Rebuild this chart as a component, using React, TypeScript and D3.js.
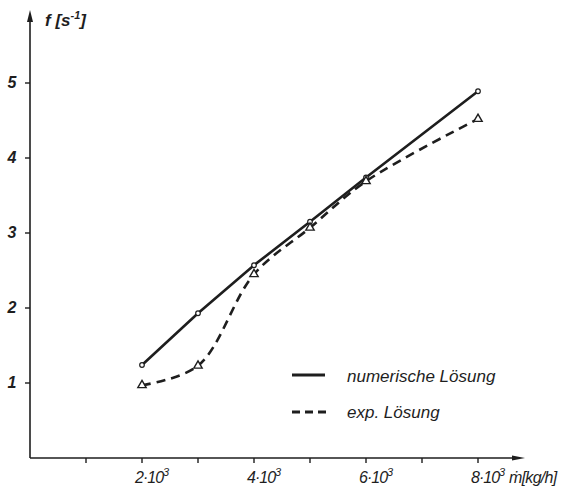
import * as d3 from "d3";

const massFlow = [2000, 3000, 4000, 5000, 6000, 8000];
const numerisch = [1.24, 1.93, 2.57, 3.15, 3.74, 4.89];
const experiment = [0.97, 1.23, 2.45, 3.07, 3.69, 4.52];
const xTicks = [1000, 2000, 3000, 4000, 5000, 6000, 7000, 8000];
const xLabels = [2000, 4000, 6000, 8000];
const yTicks = [1, 2, 3, 4, 5];

const W = 573, H = 495;
const INK = "#1e1e1e";
const FONT = "'Liberation Sans', Arial, sans-serif";

export default function App() {
  const sx = d3.scaleLinear().domain([0, 8000]).range([30, 478]);
  const sy = d3.scaleLinear().domain([0, 5]).range([458, 83]);
  const ptsN = massFlow.map((m, i) => [sx(m), sy(numerisch[i])] as [number, number]);
  const ptsE = massFlow.map((m, i) => [sx(m), sy(experiment[i])] as [number, number]);
  const solid = d3.line().curve(d3.curveLinear)(ptsN) || "";
  const dashed = d3.line().curve(d3.curveCatmullRom.alpha(0.5))(ptsE) || "";
  const tri = d3.symbol().type(d3.symbolTriangle).size(30)() || "";
  const x0 = sx(0), y0 = sy(0);

  return (
    <svg width={W} height={H} viewBox={`0 0 ${W} ${H}`}
      style={{ position: "absolute", left: 0, top: 0, background: "#fff", fontFamily: FONT }}>
      {/* axes */}
      <line x1={x0} x2={x0} y1={y0} y2={16} stroke={INK} strokeWidth={1.6} />
      <path d={`M${x0},10 L${x0 - 3},22 L${x0 + 3},22 Z`} fill={INK} />
      <line x1={x0} x2={518} y1={y0} y2={y0} stroke={INK} strokeWidth={1.6} />
      <path d={`M525,${y0} L512,${y0 - 2.5} L512,${y0 + 2.5} Z`} fill={INK} />

      {yTicks.map(t => (
        <g key={t}>
          <line x1={x0 - 5} x2={x0} y1={sy(t)} y2={sy(t)} stroke={INK} strokeWidth={1.4} />
          <text x={12} y={sy(t) + 5} textAnchor="middle" fontSize={16} fontStyle="italic" fontWeight="bold" fill={INK}>{t}</text>
        </g>
      ))}
      {xTicks.map(t => (
        <line key={t} x1={sx(t)} x2={sx(t)} y1={y0} y2={y0 + 5} stroke={INK} strokeWidth={1.4} />
      ))}
      {xLabels.map(t => (
        <text key={t} x={sx(t) - 7} y={483} fontSize={16} fontStyle="italic" fill={INK} letterSpacing={-1}>
          {t / 1000}·10<tspan dy={-7} fontSize={11}>3</tspan>
        </text>
      ))}
      <text x={509} y={483} fontSize={16} fontStyle="italic" fill={INK} letterSpacing={-0.7}>ṁ[kg/h]</text>
      <text x={45} y={26} fontSize={17} fontStyle="italic" fontWeight="bold" fill={INK}>
        f [s<tspan dy={-7} fontSize={11}>-1</tspan><tspan dy={7}>]</tspan>
      </text>

      {/* series */}
      <path d={solid} fill="none" stroke={INK} strokeWidth={2.6} strokeLinecap="round" />
      <path d={dashed} fill="none" stroke={INK} strokeWidth={2.6} strokeDasharray="9 6" />
      {ptsN.map((p, i) => (
        <circle key={i} cx={p[0]} cy={p[1]} r={2.3} fill="#fff" stroke={INK} strokeWidth={1.2} />
      ))}
      {ptsE.map((p, i) => (
        <path key={i} d={tri} transform={`translate(${p[0]},${p[1]})`} fill="#fff" stroke={INK} strokeWidth={1.4} />
      ))}

      {/* legend */}
      <line x1={292} x2={325} y1={375} y2={375} stroke={INK} strokeWidth={2.8} />
      <text x={347} y={382} fontSize={17} fontStyle="italic" fill={INK}>numerische Lösung</text>
      <line x1={292} x2={326} y1={412} y2={412} stroke={INK} strokeWidth={2.8} strokeDasharray="8 5" />
      <text x={347} y={418} fontSize={17} fontStyle="italic" fill={INK}>exp. Lösung</text>
    </svg>
  );
}
